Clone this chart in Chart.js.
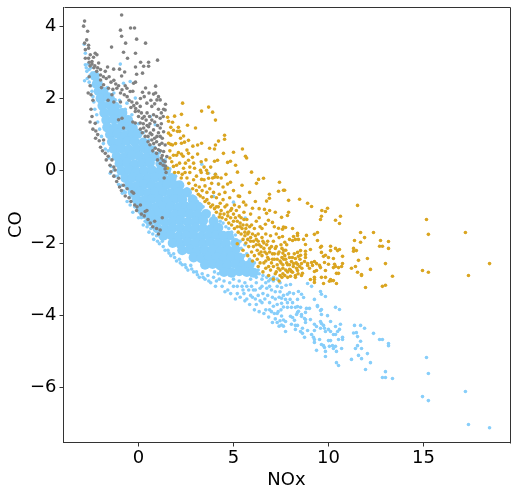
<!DOCTYPE html>
<html><head><meta charset="utf-8">
<script src="https://cdn.jsdelivr.net/npm/chart.js@4"></script>
<style>html,body{margin:0;padding:0;background:#fff}#wrap{width:516px;height:496px}</style>
</head><body><div id="wrap"><canvas id="c" width="516" height="496"></canvas></div>
<script>
const xLabel="NOx", yLabel="CO";
const xTicks=[0,5,10,15], yTicks=[-6,-4,-2,0,2,4];
const xMin=-3.95,xMax=19.53,yMin=-7.52,yMax=4.53;
const grayPoints=[[-0.89,4.31],[-2.84,4.14],[-2.89,4.0],[-2.68,3.86],[-0.95,3.89],[-0.42,3.95],[-0.21,3.95],[-0.89,3.72],[-0.1,3.64],[-0.68,3.53],[0.37,3.53],[-1.42,3.42],[-0.79,3.28],[-0.16,3.25],[-0.58,3.11],[1.0,3.06],[0.11,3.0],[0.53,3.0],[-0.16,2.87],[0.53,2.89],[0.27,2.89],[0.21,2.7],[-0.1,2.67],[-0.73,2.73],[-1.0,2.81],[-0.89,2.62],[-1.31,2.81],[-1.63,2.87],[-2.1,2.98],[-2.73,3.62],[-2.84,3.53],[-2.63,3.47],[-2.63,3.39],[-2.8,3.35],[-2.54,3.21],[-2.8,3.11],[-2.63,3.11],[-2.37,3.14],[-2.28,3.25],[-2.19,3.21],[-2.45,3.02],[-0.16,2.45],[-0.26,2.42],[0.37,2.29],[0.9,2.34],[0.21,2.17],[0.79,2.12],[0.9,2.15],[1.05,2.05],[1.14,1.96],[1.42,1.84],[1.32,1.7],[-0.61,2.28],[-0.44,2.19],[-0.87,2.24],[-1.14,2.28],[-1.4,2.1],[-1.58,2.28],[-1.84,2.38],[-2.0,2.51],[-1.75,2.75],[-2.0,2.65],[-0.09,1.87],[0.09,1.78],[0.44,1.87],[0.7,1.78],[0.97,1.96],[0.58,1.5],[0.79,1.55],[1.14,1.45],[1.4,1.68],[-0.17,1.64],[0,1.5],[-0.17,1.32],[0.09,1.32],[0.27,1.18],[0.53,1.22],[0.79,1.13],[1.14,1.18],[1.32,1.08],[0.97,0.95],[1.14,0.95],[0.62,1.04],[0.35,0.95],[1.23,0.76],[1.4,0.71],[1.05,0.58],[0.88,0.62],[1.32,0.53],[1.49,0.39],[1.4,0.25],[-0.87,1.45],[-1.05,1.41],[-0.79,1.18],[-2.45,1.5],[-2.28,1.31],[-2.26,0.9],[-2.07,0.83],[-1.84,0.85],[-1.75,0.48],[-1.6,0.4],[-1.4,0.3],[-1.3,0.1],[-1.23,0.02],[-1.05,-0.21],[-0.8,-0.4],[-0.6,-0.5],[-0.35,-0.58],[-0.26,-0.62],[-0.08,-1.0],[0.1,-0.95],[0.35,-1.13],[0.44,-1.1],[0.62,-1.45],[0.85,-1.4],[1.14,-1.64],[1.25,-1.3],[1.35,-0.2],[1.4,0.05],[0.7,0.85],[0.2,1.45],[-0.4,1.75],[-0.3,1.35],[-1.3,1.9],[-1.6,1.95],[-1.95,2.3],[-2.2,2.75],[-2.35,2.85],[-2.55,2.9],[-0.95,1.9],[0.45,1.6],[0.95,0.8],[1.2,0.35],[-2.5,1.7],[-2.4,1.95]];
const grayDense=[[-2.6,3.0],[-2.45,2.95],[-2.3,2.9],[-2.15,2.85],[-2.0,2.8],[-1.85,2.6],[-1.7,2.55],[-1.55,2.6],[-1.45,2.45],[-1.3,2.5],[-1.2,2.4],[-1.05,2.35],[-0.95,2.15],[-0.75,2.1],[-0.6,2.05],[-0.5,1.95],[-0.35,1.9],[-0.25,1.8],[-0.15,1.72],[0,1.65],[0.15,1.6],[0.3,1.5],[0.4,1.4],[0.25,1.3],[0.45,1.25],[0.6,1.3],[0.7,1.4],[0.85,1.35],[1.0,1.25],[1.2,1.3],[0.1,1.15],[0.2,1.05],[0.4,1.1],[0.5,0.95],[0.7,1.0],[0.85,0.9],[1.05,1.05],[1.25,0.9],[0.5,0.8],[0.6,0.72],[0.8,0.75],[1.1,0.72],[0.75,0.55],[0.95,0.48],[1.15,0.55],[1.25,0.42],[1.0,0.3],[1.15,0.2],[1.3,0.28],[1.3,0.15],[1.42,0.13],[1.45,-0.05],[-1.35,2.25],[-0.7,2.35],[-0.3,2.2],[0.1,2.0],[0.3,2.05],[0.55,2.15],[0.65,1.95],[0.85,1.85],[1.05,1.7],[1.2,1.6],[1.3,1.5],[0.95,1.5],[-2.55,1.35],[-2.4,1.15],[-2.25,1.1],[-2.15,1.0],[-2.0,0.65],[-1.9,0.55],[-1.7,0.3],[-1.5,0.15],[-1.45,-0.03],[-1.3,-0.15],[-1.15,-0.3],[-1.0,-0.45],[-0.9,-0.55],[-0.7,-0.7],[-0.5,-0.75],[-0.4,-0.85],[-0.2,-0.95],[-0.1,-1.1],[0.15,-1.2],[0.3,-1.25],[0.5,-1.35],[0.75,-1.55],[0.95,-1.6],[1.05,-1.75],[-2.6,2.6],[-2.55,2.35],[-2.65,2.15],[-2.5,2.1]];
const goldPoints=[[2.32,1.87],[3.69,1.76],[3.32,1.65],[3.9,1.62],[4.05,1.4],[1.53,1.48],[1.9,1.51],[2.26,1.56],[1.58,1.37],[1.79,1.34],[2.58,1.26],[3.0,1.18],[1.84,1.12],[2.05,1.09],[2.16,1.09],[1.58,1.04],[1.69,0.98],[2.37,0.96],[2.21,0.9],[2.26,0.76],[2.42,0.79],[1.58,0.76],[1.69,0.73],[1.79,0.71],[2.63,0.84],[2.86,0.68],[3.11,0.71],[3.32,0.76],[4.53,0.98],[4.53,0.87],[4.21,0.82],[4.05,0.71],[3.74,0.62],[4.0,0.6],[2.55,0.57],[2.63,0.48],[2.0,0.43],[1.84,0.43],[2.26,0.46],[3.11,0.46],[4.47,0.48],[5.0,0.51],[5.47,0.6],[5.63,0.4],[5.69,0.35],[4.0,0.26],[4.16,0.29],[4.69,0.23],[4.84,0.26],[5.11,0.15],[5.21,-0.04],[5.95,-0.04],[2.84,0.37],[2.63,0.29],[2.9,0.21],[2.47,0.21],[2.16,0.21],[2.0,0.15],[1.84,0.12],[1.53,0.07],[2.37,0.07],[2.95,0.07],[3.26,0.01],[3.58,0.01],[3.63,-0.07],[4.05,-0.1],[4.0,-0.18],[4.16,-0.18],[3.32,-0.24],[3.69,-0.21],[4.21,-0.37],[4.84,-0.32],[4.69,-0.37],[6.32,-0.24],[6.58,-0.21],[6.21,-0.35],[7.42,-0.32],[7.37,-0.57],[7.63,-0.54],[6.89,-0.65],[6.89,-0.76],[6.74,-0.84],[7.9,-0.82],[6.63,-1.07],[6.74,-1.18],[7.9,-1.15],[7.53,-1.29],[6.84,-1.37],[6.68,-1.48],[7.05,-1.43],[7.37,-1.59],[7.63,-1.56],[5.32,-0.71],[5.53,-0.87],[6.0,-1.04],[7.69,-0.54],[8.48,-0.79],[8.9,-0.9],[9.11,-0.99],[9.65,-1.1],[9.84,-1.13],[9.95,-1.04],[10.63,-1.26],[9.63,-1.26],[9.58,-1.35],[10.37,-1.37],[10.58,-1.46],[7.84,-1.24],[7.74,-1.57],[7.58,-1.62],[8.11,-1.6],[11.53,-0.96],[11.69,-1.71],[12.37,-1.71],[11.9,-1.85],[11.37,-1.93],[11.69,-1.98],[12.74,-1.93],[13.16,-1.96],[12.69,-2.09],[12.84,-2.09],[13.16,-2.15],[11.32,-2.15],[11.32,-2.23],[11.47,-2.21],[9.42,-1.71],[9.26,-1.76],[8.84,-1.79],[8.37,-1.73],[8.37,-1.79],[8.16,-1.82],[7.58,-1.82],[7.95,-1.9],[8.11,-1.93],[8.26,-1.9],[8.42,-1.9],[8.69,-1.9],[9.42,-1.93],[8.79,-2.04],[9.63,-2.09],[9.58,-2.12],[10.11,-2.09],[10.37,-2.15],[10.58,-2.18],[10.48,-2.21],[10.11,-2.21],[9.05,-2.18],[8.53,-2.21],[8.37,-2.26],[8.79,-2.23],[8.79,-2.32],[8.79,-2.4],[9.63,-2.26],[9.84,-2.34],[9.74,-2.37],[10.0,-2.4],[10.26,-2.43],[10.74,-2.37],[11.58,-2.48],[12.05,-2.43],[13.0,-2.57],[9.79,-2.54],[10.0,-2.59],[10.74,-2.57],[10.32,-2.59],[10.37,-2.65],[10.26,-2.68],[10.69,-2.65],[10.53,-2.68],[11.21,-2.7],[11.42,-2.65],[12.21,-2.73],[11.53,-2.81],[11.74,-2.87],[11.74,-2.9],[13.37,-2.92],[11.95,-3.23],[12.84,-3.2],[13.0,-3.17],[10.42,-3.12],[9.74,-3.12],[9.26,-3.09],[9.05,-3.01],[9.26,-3.01],[9.26,-2.95],[9.63,-2.95],[9.84,-2.95],[10.11,-3.01],[10.16,-3.04],[10.26,-3.04],[10.05,-3.06],[10.42,-2.84],[10.53,-2.84],[9.84,-2.76],[9.37,-2.76],[9.26,-2.79],[9.58,-2.68],[9.53,-2.62],[9.26,-2.51],[9.11,-2.54],[9.37,-2.57],[9.16,-2.62],[8.9,-2.57],[8.9,-2.62],[9.0,-2.7],[8.74,-2.51],[8.58,-2.57],[8.53,-2.34],[8.42,-2.37],[8.26,-2.43],[7.95,-2.4],[8.05,-2.51],[8.16,-2.57],[8.37,-2.59],[8.48,-2.65],[8.32,-2.7],[8.37,-2.76],[8.05,-2.79],[7.95,-2.73],[8.11,-2.81],[8.0,-2.92],[8.26,-2.95],[8.26,-2.9],[8.63,-2.84],[8.58,-2.9],[15.16,-1.35],[15.26,-1.76],[17.21,-1.71],[18.48,-2.57],[14.95,-2.76],[15.26,-2.81],[17.37,-2.9]];
const goldDense=[[2.3,-0.1],[2.55,-0.2],[2.7,-0.05],[2.9,-0.25],[3.05,-0.15],[3.0,-0.4],[3.2,-0.45],[3.35,-0.55],[3.5,-0.42],[3.6,-0.6],[3.75,-0.5],[3.85,-0.72],[3.95,-0.6],[4.1,-0.75],[4.25,-0.65],[4.3,-0.9],[4.45,-0.8],[4.55,-0.6],[4.65,-0.95],[4.8,-0.75],[4.9,-1.05],[5.05,-0.95],[4.1,-1.0],[4.35,-1.1],[4.5,-1.2],[4.7,-1.15],[4.85,-1.3],[5.0,-1.2],[5.15,-1.1],[5.3,-1.0],[5.4,-1.3],[5.55,-1.15],[5.7,-1.35],[5.2,-1.4],[5.35,-1.55],[5.5,-1.5],[5.65,-1.6],[5.8,-1.7],[5.95,-1.5],[6.1,-1.6],[6.2,-1.4],[6.3,-1.75],[6.4,-1.55],[5.6,-1.8],[5.75,-1.9],[5.9,-1.85],[6.05,-1.95],[6.2,-1.9],[6.35,-2.05],[6.5,-1.85],[6.6,-2.0],[6.7,-1.75],[6.8,-1.95],[6.95,-1.8],[7.1,-1.95],[7.25,-1.75],[6.25,-2.2],[6.45,-2.25],[6.6,-2.15],[6.75,-2.3],[6.9,-2.15],[7.05,-2.3],[7.2,-2.15],[7.35,-2.3],[7.5,-2.05],[7.65,-2.2],[7.8,-2.05],[6.7,-2.5],[6.85,-2.45],[7.0,-2.55],[7.15,-2.45],[7.3,-2.6],[7.45,-2.5],[7.6,-2.6],[7.75,-2.45],[7.85,-2.6],[7.25,-2.8],[7.45,-2.75],[7.6,-2.85],[7.75,-2.75],[7.85,-2.95],[7.55,-2.4],[7.7,-2.35],[7.55,-2.95],[7.7,-1.98],[7.6,-2.28],[3.3,-0.05],[3.85,-0.35],[4.45,-0.45],[5.25,-0.7],[5.65,-0.95],[5.9,-1.2],[6.35,-1.3],[7.15,-1.55],[6.5,-1.6],[3.45,-0.25],[2.1,-0.05],[1.75,0.25],[1.65,0.55],
[3.05,-0.55],[3.15,-0.65],[3.25,-0.7],[3.4,-0.75],[3.5,-0.85],[3.6,-0.8],[3.7,-0.9],[3.8,-1.0],[3.9,-0.95],[4.0,-1.05],[4.1,-1.15],[4.2,-1.0],[4.3,-1.2],[4.4,-1.3],[4.25,-1.28],[4.55,-1.0],[4.6,-1.35],[4.7,-1.25],[4.75,-1.45],[4.85,-1.1],[4.9,-1.5],[5.0,-1.4],[5.05,-1.6],[5.1,-1.3],[5.2,-1.55],[5.25,-1.7],[5.3,-1.25],[5.35,-1.45],[5.4,-1.75],[5.45,-1.6],[5.5,-1.9],[5.55,-1.35],[5.6,-1.7],[5.65,-2.0],[5.7,-1.5],[5.75,-1.75],[5.8,-2.1],[5.85,-1.55],[5.9,-1.95],[5.95,-2.25],[6.0,-1.75],[6.05,-2.1],[6.1,-2.35],[6.15,-1.8],[6.2,-2.05],[6.25,-2.45],[6.3,-1.95],[6.35,-2.3],[6.4,-2.55],[6.45,-2.1],[6.5,-2.35],[6.55,-1.95],[6.6,-2.55],[6.65,-2.25],[6.7,-2.7],[6.75,-2.05],[6.8,-2.4],[6.85,-2.65],[6.9,-2.25],[6.95,-2.75],[7.0,-2.1],[7.05,-2.45],[7.1,-2.65],[7.15,-2.3],[7.2,-2.85],[7.25,-2.1],[7.3,-2.45],[7.35,-2.7],[7.4,-2.25],[7.45,-2.9],[7.5,-2.55],[7.55,-2.15],[7.6,-2.7],[7.65,-2.45],[7.7,-2.9],[7.75,-2.2],[7.8,-2.55],[7.85,-2.8],[7.9,-2.3],[7.95,-2.6],[8.0,-2.75],[8.1,-2.4],[8.15,-2.65],[8.2,-2.3],[8.3,-2.55],[8.4,-2.85],[8.5,-2.45],[8.6,-2.7],
[2.1,0.5],[2.35,0.4],[2.7,0.1],[2.45,-0.05],[1.95,0.75],[2.1,1.2],[1.7,1.2],[1.65,0.35],[1.9,-0.05],[2.25,-0.2],[2.65,-0.35],[2.85,-0.5],[3.55,0.3],[3.3,0.25],[3.45,0.1],[3.8,0.1],[3.9,-0.2],[4.35,-0.2],[4.6,-0.1],[5.0,-0.55],[5.45,-0.4],[5.85,-0.6],[6.15,-0.85],[6.35,-1.05],[6.9,-1.1],[7.2,-1.15],[7.4,-1.85],[5.2,-2.02],[5.5,-2.2],[5.75,-2.35],[6.0,-2.5],[6.3,-2.65],[6.55,-2.8],[6.85,-2.9],[7.1,-3.0],[7.4,-3.05]];
const blueCore=[[-2.3,2.62],[-2.2,2.4],[-2.15,2.43],[-2.1,2.2],[-1.85,2.18],[-2.0,2.0],[-1.6,2.03],[-1.5,1.98],[-1.9,1.8],[-1.5,1.82],[-1.25,1.78],[-1.8,1.6],[-1.4,1.62],[-1.0,1.58],[-0.85,1.6],[-1.7,1.4],[-1.3,1.42],[-0.9,1.38],[-0.55,1.4],[-1.65,1.2],[-1.25,1.18],[-0.85,1.22],[-0.45,1.2],[-0.3,1.18],[-1.5,1.0],[-1.1,1.02],[-0.7,0.98],[-0.3,1.0],[-0.05,1.02],[-1.4,0.8],[-1.0,0.78],[-0.6,0.82],[-0.2,0.8],[0.25,0.78],[-1.3,0.6],[-0.9,0.62],[-0.5,0.58],[-0.1,0.6],[0.3,0.62],[0.55,0.6],[-1.15,0.4],[-0.75,0.38],[-0.35,0.42],[0.05,0.4],[0.45,0.38],[0.85,0.4],[-1.0,0.2],[-0.6,0.22],[-0.2,0.18],[0.2,0.2],[0.6,0.22],[1.15,0.2],[-0.9,0],[-0.5,0.02],[-0.1,-0.02],[0.3,0],[0.7,0.02],[1.1,-0.02],[1.45,0],[-0.7,-0.2],[-0.3,-0.18],[0.1,-0.22],[0.5,-0.2],[0.9,-0.18],[1.3,-0.22],[1.75,-0.2],[-0.5,-0.4],[-0.1,-0.42],[0.3,-0.38],[0.7,-0.4],[1.1,-0.42],[1.5,-0.38],[2.15,-0.4],[1.9,-0.4],[-0.3,-0.6],[0.1,-0.58],[0.5,-0.62],[0.9,-0.6],[1.3,-0.58],[1.7,-0.62],[2.1,-0.6],[2.55,-0.6],[-0.1,-0.8],[0.3,-0.82],[0.7,-0.78],[1.1,-0.8],[1.5,-0.82],[1.9,-0.78],[2.3,-0.8],[2.85,-0.8],[0.1,-1.0],[0.5,-0.98],[0.9,-1.02],[1.3,-1.0],[1.7,-0.98],[2.1,-1.02],[2.5,-1.0],[3.15,-1.0],[2.8,-1.0],[0.3,-1.2],[0.7,-1.22],[1.1,-1.18],[1.5,-1.2],[1.9,-1.22],[2.3,-1.18],[2.7,-1.2],[3.1,-1.22],[3.55,-1.2],[0.6,-1.4],[1.0,-1.38],[1.4,-1.42],[1.8,-1.4],[2.2,-1.38],[2.6,-1.42],[3.0,-1.4],[3.4,-1.38],[3.95,-1.4],[1.0,-1.6],[1.4,-1.62],[1.8,-1.58],[2.2,-1.6],[2.6,-1.62],[3.0,-1.58],[3.4,-1.6],[3.8,-1.62],[4.2,-1.58],[1.3,-1.8],[1.7,-1.78],[2.1,-1.82],[2.5,-1.8],[2.9,-1.78],[3.3,-1.82],[3.7,-1.8],[4.1,-1.78],[4.75,-1.8],[4.45,-1.8],[1.8,-2.0],[2.2,-2.02],[2.6,-1.98],[3.0,-2.0],[3.4,-2.02],[3.8,-1.98],[4.2,-2.0],[4.6,-2.02],[5.1,-2.0],[2.3,-2.2],[2.7,-2.18],[3.1,-2.22],[3.5,-2.2],[3.9,-2.18],[4.3,-2.22],[4.7,-2.2],[5.1,-2.18],[2.9,-2.4],[3.3,-2.42],[3.7,-2.38],[4.1,-2.4],[4.5,-2.42],[4.9,-2.38],[5.3,-2.4],[3.5,-2.6],[3.9,-2.58],[4.3,-2.62],[4.7,-2.6],[5.1,-2.58],[5.5,-2.62],[5.85,-2.6],[4.5,-2.8],[4.9,-2.82],[5.3,-2.78],[5.7,-2.8],[6.05,-2.82]];
const bluePoints=[[15.16,-5.17],[15.26,-5.61],[17.21,-6.11],[14.95,-6.25],[15.26,-6.36],[17.37,-7.02],[18.48,-7.11],[13.0,-5.56],[12.84,-5.72],[13.0,-5.72],[13.37,-5.75],[11.95,-5.5],[12.21,-5.31],[11.74,-5.2],[11.58,-5.11],[11.21,-5.22],[12.05,-5.06],[11.74,-4.92],[11.42,-4.92],[11.53,-4.84],[11.69,-4.72],[11.53,-4.59],[11.32,-4.49],[11.47,-4.48],[11.37,-4.28],[11.69,-4.28],[11.9,-4.36],[12.37,-4.5],[12.69,-4.67],[12.84,-4.67],[13.16,-4.78],[13.16,-4.84],[10.53,-5.39],[10.42,-5.31],[9.84,-5.14],[9.84,-5.0],[9.37,-4.97],[10.42,-5.0],[10.69,-4.92],[10.26,-4.92],[10.21,-4.84],[10.37,-4.86],[10.05,-4.86],[9.79,-4.89],[9.74,-4.84],[9.63,-4.81],[10.0,-4.7],[10.11,-4.7],[9.26,-4.75],[9.26,-4.67],[9.21,-4.61],[9.53,-4.67],[9.11,-4.53],[8.74,-4.61],[8.63,-4.5],[8.53,-4.45],[8.63,-4.36],[8.26,-4.39],[7.74,-4.45],[8.9,-4.42],[9.26,-4.42],[9.26,-4.25],[9.37,-4.31],[9.58,-4.36],[9.84,-4.45],[9.79,-4.36],[9.74,-4.28],[9.58,-4.17],[9.63,-4.23],[10.0,-4.39],[10.11,-4.45],[10.26,-4.53],[10.37,-4.53],[10.48,-4.45],[10.58,-4.39],[10.37,-4.31],[10.63,-4.25],[10.11,-4.17],[10.53,-4.67],[10.74,-4.61],[10.74,-4.67],[9.95,-4.01],[9.63,-3.98],[9.63,-3.84],[9.58,-3.87],[9.42,-3.73],[9.42,-3.76],[10.37,-3.78],[10.58,-3.84],[9.26,-3.56],[9.84,-3.48],[9.63,-3.42],[9.58,-3.34],[9.11,-3.2],[8.9,-3.12],[9.05,-4.12],[8.79,-4.2],[8.79,-4.12],[8.84,-3.81],[9.0,-3.81],[8.79,-3.92],[8.58,-3.98],[8.58,-4.03],[8.74,-4.09],[8.53,-3.78],[8.37,-3.76],[8.26,-3.78],[8.05,-3.78],[8.69,-3.51],[8.58,-3.42],[8.37,-3.56],[8.42,-3.34],[8.16,-3.4],[7.95,-3.37],[7.84,-3.42],[7.98,-3.56],[8.11,-3.65],[7.84,-3.65],[7.63,-3.45],[7.53,-3.53],[7.74,-3.56],[7.63,-3.77],[7.84,-3.78],[7.53,-3.67],[8.0,-4.03],[8.11,-4.06],[7.53,-4.02],[8.21,-4.14],[8.37,-3.92],[8.32,-3.98],[8.42,-3.89],[8.05,-4.25],[8.26,-4.28],[8.37,-4.28],[7.63,-4.13],[7.74,-4.17],[7.63,-4.3],[7.53,-4.27],[7.77,-3.17],[7.53,-3.23],[8.0,-3.15],[-2.86,3.5],[-2.8,3.25],[-2.8,2.93],[-0.96,2.95],[-2.84,2.49],[-2.72,2.75],[-2.54,2.65],[-2.37,2.56],[-2.19,2.42],[-1.66,2.24],[-0.79,2.42],[-0.44,2.47],[-1.23,1.96],[-0.17,2.01],[-0.96,1.78],[-0.61,1.87],[0.62,1.5],[0.88,1.27],[-1.49,-0.07],[-0.79,-0.56],[-0.44,-0.95],[3.33,0.18],[3.69,-0.07],[4.04,-0.1],[4.21,-0.37],[5,-0.87],[5.62,-1.31],[3.95,-0.71]];
const blueEdge=[[-2.75,2.85],[-2.65,2.95],[-2.6,2.8],[-2.5,2.85],[-2.45,2.7],[-2.7,2.55],[-2.6,2.45],[-2.5,2.35],[-2.45,2.2],[-2.4,2.05],[-2.35,1.9],[-2.3,1.7],[-2.2,1.55],[-2.15,1.35],[-2.05,1.15],[-1.95,0.95],[-1.85,0.75],[-1.75,0.6],[-1.55,0.35],[-1.45,0.12],[-1.25,-0.15],[-1.05,-0.38],[-0.85,-0.62],[-0.6,-0.85],[-0.3,-1.15],[0,-1.3],[0.25,-1.5],[0.55,-1.7],[0.8,-1.9],[1.1,-2.02],[1.4,-2.2],[1.7,-2.35],[2.0,-2.5],[2.3,-2.6],[2.6,-2.75],[2.9,-2.8],[3.2,-2.95],[3.5,-3.0],[3.8,-3.1],[4.1,-3.05],[4.4,-3.2],[4.7,-3.3],[5.0,-3.2],[5.2,-3.4],[5.5,-3.3],[5.7,-3.55],[6.0,-3.5],[6.2,-3.7],[6.5,-3.65],[6.7,-3.85],[7.0,-3.9],[7.2,-4.1],[7.4,-4.3],[-1.8,2.1],[-1.65,2.3],[-1.3,2.15],[-1.0,1.95],[-0.7,1.7],[-0.35,1.55],[0,1.3],[0.25,1.05],[0.55,0.85],[0.85,0.65],[1.1,0.5],[1.4,0.3],[1.65,0.05],[1.95,-0.15],[2.25,-0.35],[2.55,-0.5],[2.85,-0.7],[3.1,-0.85],[3.4,-1.0],[3.7,-1.15],[4.05,-1.32],[4.3,-1.4],[4.6,-1.55],[4.75,-1.6],[4.9,-1.7],[5.1,-1.78],[5.35,-1.95],[5.6,-2.05],[5.7,-2.3],[5.85,-2.45],[6.1,-2.55],[6.3,-2.75],[6.55,-2.9],[6.75,-2.95],[6.95,-3.0],[7.1,-2.95],[4.2,-2.85],[4.0,-2.8],[5.0,-3.0],[5.3,-3.05],[5.6,-3.1],[5.9,-3.0],[6.2,-3.1],[6.4,-3.25],[6.7,-3.1],[6.9,-3.2],[7.1,-3.05],[7.3,-3.0],[7.45,-3.1],[6.5,-3.0],[6.85,-3.05],[7.2,-3.35],[7.4,-3.5],[7.05,-3.5],[6.8,-3.45],[6.55,-3.4],[6.3,-3.45],[6.05,-3.3],[5.8,-3.3],[7.3,-3.7],[7.1,-3.75],[6.9,-3.65],[7.35,-3.9],[7.45,-4.15],[7.15,-3.95],[4.5,-3.05],[4.8,-3.1],[5.45,-3.2],
[-1.6,0.55],[-1.3,0.02],[-1.1,-0.15],[-0.9,-0.4],[-0.7,-0.6],[-0.45,-0.75],[-0.2,-1.0],[0.05,-1.15],[0.35,-1.4],[0.65,-1.6],[0.95,-1.8],[1.25,-1.95],[1.55,-2.2],[1.85,-2.3],[2.15,-2.45],[2.45,-2.6],[2.75,-2.62],[3.05,-2.8],[3.35,-2.85],[3.65,-2.9],[3.95,-2.95],[4.25,-3.0],[0.15,-1.3],[0.45,-1.55],[0.75,-1.75],[1.0,-1.95],[1.3,-2.1],[1.6,-2.28],[1.9,-2.4],[2.2,-2.55],[2.5,-2.68],[2.8,-2.72],[3.1,-2.88],[3.4,-2.95],[3.7,-3.05],[4.05,-3.2],[4.55,-3.35],[4.85,-3.4],[5.1,-3.55],[5.35,-3.5],[5.6,-3.6],[5.85,-3.7],[6.1,-3.85],[6.35,-3.9],[6.6,-3.95],[6.85,-4.05],[7.05,-4.2],[7.3,-4.2],[5.2,-3.2],[5.7,-3.2],[5.95,-3.2],[6.15,-3.3],[6.5,-3.2],[6.75,-3.25],[7.0,-3.3],[7.3,-3.2],[7.45,-3.35],[6.65,-3.55],[6.9,-3.85],[6.4,-3.6],[6.15,-3.55],[5.9,-3.45],[5.55,-3.4],[7.2,-3.55],[7.3,-3.95],[7.5,-3.85],[1.55,0.0],[1.85,-0.3],[2.35,-0.55],[2.95,-0.95],[3.25,-0.95],[3.6,-1.25],[3.95,-1.25],[4.15,-1.5],[4.45,-1.45],[4.55,-1.75],[4.95,-1.85],[5.25,-2.2],[5.4,-2.15],[5.55,-2.35],[5.5,-2.5],[5.95,-2.7],[6.2,-2.95],[6.35,-2.85]];

const ptColor={gray:"#808080",gold:"#DAA520",blue:"#87CEFA"};
function ds(points,color,r){return {data:points.map(p=>({x:p[0],y:p[1]})),backgroundColor:color,borderWidth:0,pointRadius:r,pointHoverRadius:r,showLine:false};}
const frame={id:"frame",afterDraw(c){const a=c.chartArea,g=c.ctx;g.save();g.strokeStyle="#333";g.lineWidth=1;g.beginPath();
 g.moveTo(Math.round(a.left)+.5,Math.round(a.top)+.5);g.lineTo(Math.round(a.right)+.5,Math.round(a.top)+.5);g.lineTo(Math.round(a.right)+.5,Math.round(a.bottom)+.5);g.stroke();g.restore();}};
const minus=v=>String(v).replace("-","\u2212");
const tickFont={family:"DejaVu Sans",size:18};
new Chart(document.getElementById("c"),{type:"scatter",plugins:[frame],
 data:{datasets:[ds(grayPoints,ptColor.gray,1.8),ds(grayDense,ptColor.gray,1.8),ds(goldPoints,ptColor.gold,1.8),ds(goldDense,ptColor.gold,1.8),ds(blueCore,ptColor.blue,5),ds(bluePoints,ptColor.blue,1.8),ds(blueEdge,ptColor.blue,1.8)]},
 options:{responsive:false,animation:false,events:[],layout:{padding:{left:0,right:6.5,top:7,bottom:0}},
  plugins:{legend:{display:false},tooltip:{enabled:false}},
  scales:{
   x:{type:"linear",min:xMin,max:xMax,afterBuildTicks:s=>{s.ticks=xTicks.map(v=>({value:v}));},afterFit:s=>{s.height=53.5;s.paddingLeft=0;s.paddingRight=0;},
    grid:{drawOnChartArea:false,drawTicks:true,tickLength:4,color:"#333"},border:{display:true,color:"#333",width:1},
    ticks:{font:tickFont,color:"#000",maxRotation:0,padding:1,callback:minus},
    title:{display:true,text:xLabel,font:tickFont,color:"#000",padding:{top:0,bottom:5}}},
   y:{type:"linear",min:yMin,max:yMax,afterBuildTicks:s=>{s.ticks=yTicks.map(v=>({value:v}));},afterFit:s=>{s.width=63.5;s.paddingTop=0;s.paddingBottom=0;},
    grid:{drawOnChartArea:false,drawTicks:true,tickLength:4,color:"#333"},border:{display:true,color:"#333",width:1},
    ticks:{font:tickFont,color:"#000",padding:3,callback:minus},
    title:{display:true,text:yLabel,font:tickFont,color:"#000",padding:{top:6,bottom:0}}}
  }}});
</script></body></html>
